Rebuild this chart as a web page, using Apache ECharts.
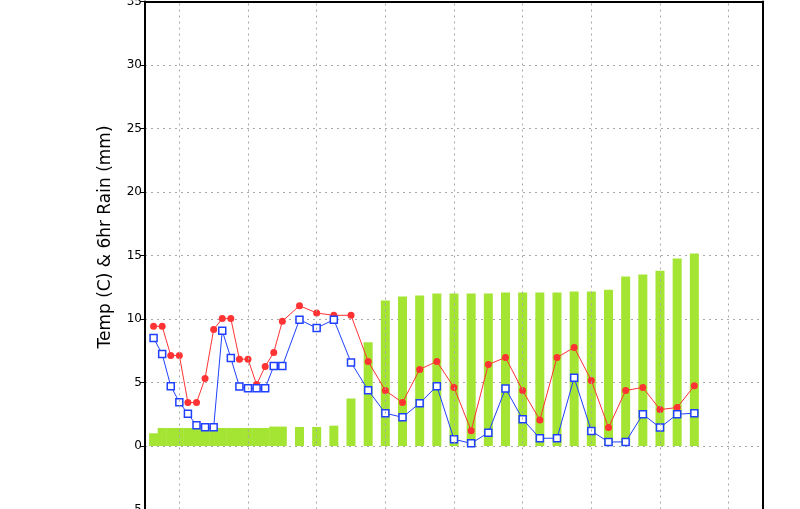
<!DOCTYPE html>
<html>
<head>
<meta charset="utf-8">
<script src="https://cdn.jsdelivr.net/npm/echarts@6/dist/echarts.min.js"></script>
<style>
  html, body { margin: 0; padding: 0; background: #fff; }
  #main { width: 800px; height: 509px; }
</style>
</head>
<body>
<div id="main"></div>
<script>
// hours from first forecast point (3-hourly, then 6-hourly)
var hours = [0, 3, 6, 9, 12, 15, 18, 21, 24, 27, 30, 33, 36, 39, 42, 45,
  51, 57, 63, 69, 75, 81, 87, 93, 99, 105, 111, 117, 123, 129, 135, 141,
  147, 153, 159, 165, 171, 177, 183, 189];
// accumulated rain (mm)
var rain = [1.0, 1.42, 1.42, 1.42, 1.42, 1.42, 1.42, 1.42, 1.42, 1.42, 1.42, 1.42, 1.42, 1.42, 1.53, 1.53,
  1.5, 1.5, 1.6, 3.74, 8.16, 11.45, 11.77, 11.85, 12.0, 12.0, 12.0, 12.0, 12.08, 12.08, 12.08, 12.08,
  12.16, 12.16, 12.3, 13.34, 13.5, 13.8, 14.76, 15.16];
// temperature (C)
var temp = [9.42, 9.42, 7.13, 7.13, 3.42, 3.42, 5.32, 9.18, 10.03, 10.03, 6.84, 6.84, 4.84, 6.26, 7.37, 9.82,
  11.05, 10.47, 10.29, 10.29, 6.66, 4.37, 3.42, 6.03, 6.66, 4.61, 1.21, 6.42, 6.97, 4.37, 2.05, 6.97,
  7.76, 5.16, 1.45, 4.37, 4.61, 2.87, 3.03, 4.74];
// dew point (C)
var dew = [8.5, 7.24, 4.71, 3.45, 2.53, 1.63, 1.47, 1.47, 9.08, 6.92, 4.68, 4.55, 4.55, 4.55, 6.29, 6.29,
  9.95, 9.29, 9.95, 6.58, 4.39, 2.58, 2.26, 3.37, 4.71, 0.53, 0.21, 1.05, 4.53, 2.11, 0.61, 0.61,
  5.37, 1.18, 0.32, 0.32, 2.5, 1.45, 2.5, 2.58];
// day boundaries (vertical grid)
var dayLines = [9, 33, 57, 81, 105, 129, 153, 177, 201];

function pairs(vals) {
  var out = [];
  for (var i = 0; i < hours.length; i++) out.push([hours[i], vals[i]]);
  return out;
}

var gridStyle = { color: '#a8a8a8', width: 1, type: [2, 4] };

var myChart = echarts.init(document.getElementById('main'));

var option = {
  animation: false,
  backgroundColor: '#ffffff',
  grid: { left: 145, top: 1.5, width: 618, height: 508, outerBoundsMode: 'none', containLabel: false },
  xAxis: [{
    type: 'value', position: 'top', min: -3, max: 213,
    axisLine: { show: true, onZero: false, lineStyle: { color: '#000', width: 2 } },
    axisTick: { show: false }, axisLabel: { show: false }, splitLine: { show: false }
  }],
  yAxis: [{
    type: 'value', min: -5, max: 35, interval: 5,
    axisLine: { show: true, onZero: false, lineStyle: { color: '#000', width: 2 } },
    axisTick: { show: true, length: 5, lineStyle: { color: '#000' } },
    axisLabel: { color: '#000', fontSize: 12, fontFamily: 'DejaVu Sans', margin: 3 },
    splitLine: { show: true, lineStyle: gridStyle }
  }, {
    type: 'value', position: 'right', min: -5, max: 35, interval: 5,
    axisLine: { show: true, onZero: false, lineStyle: { color: '#000', width: 2 } },
    axisTick: { show: false }, axisLabel: { show: false }, splitLine: { show: false }
  }],
  graphic: [{
    type: 'text', x: 106, y: 237, rotation: Math.PI / 2,
    style: {
      text: 'Temp (C) & 6hr Rain (mm)', fill: '#000',
      font: '17px "DejaVu Sans"', align: 'center', verticalAlign: 'middle'
    }
  }],
  series: [{
    type: 'bar', name: 'rain', barWidth: 9,
    itemStyle: { color: '#a4e534' },
    data: pairs(rain),
    markLine: {
      silent: true, symbol: 'none', label: { show: false },
      lineStyle: gridStyle,
      data: dayLines.map(function (h) { return { xAxis: h }; })
    }
  }, {
    type: 'line', name: 'temp', symbol: 'circle', symbolSize: 7,
    lineStyle: { color: '#ff3333', width: 1 },
    itemStyle: { color: '#ff3333' },
    data: pairs(temp)
  }, {
    type: 'line', name: 'dew', symbol: 'rect', symbolSize: 7,
    lineStyle: { color: '#2040ff', width: 1 },
    itemStyle: { color: '#ffffff', borderColor: '#2040ff', borderWidth: 1.5 },
    data: pairs(dew)
  }]
};

myChart.setOption(option);
</script>
</body>
</html>
